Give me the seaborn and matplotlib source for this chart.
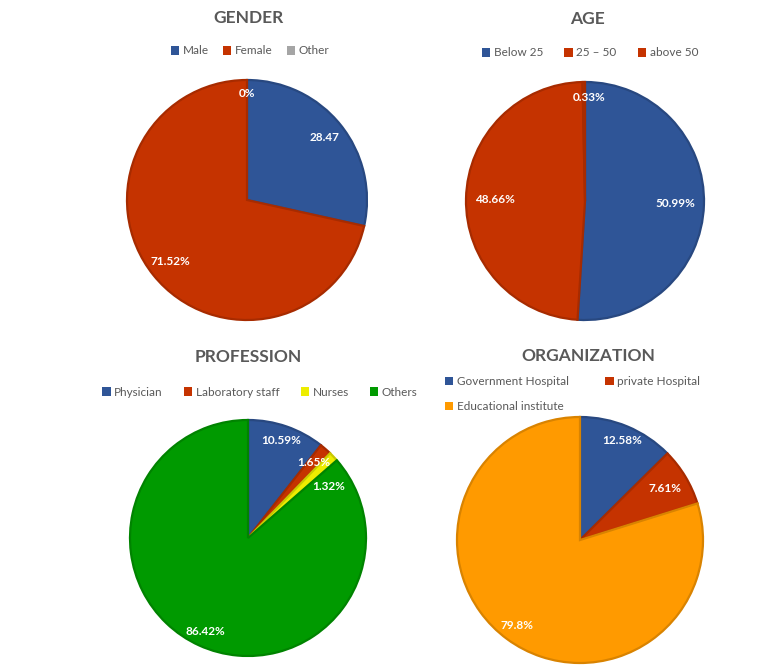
import numpy as np
import matplotlib
matplotlib.use("Agg")
import matplotlib.pyplot as plt
import matplotlib.colors as mcolors
from matplotlib.patches import Patch
import seaborn as sns

# Data
gender_cats = ["Male", "Female", "Other"]
gender_vals = [28.47, 71.52, 0.0]
gender_labels = ["28.47", "71.52%", "0%"]

age_cats = ["Below 25", "25 \u2013 50", "above 50"]
age_vals = [50.99, 48.66, 0.33]
age_labels = ["50.99%", "48.66%", "0.33%"]

prof_cats = ["Physician", "Laboratory staff", "Nurses", "Others"]
prof_vals = [10.59, 1.65, 1.32, 86.42]
prof_labels = ["10.59%", "1.65%", "1.32%", "86.42%"]

org_cats = ["Government Hospital", "private Hospital", "Educational institute"]
org_vals = [12.58, 7.61, 79.8]
org_labels = ["12.58%", "7.61%", "79.8%"]

# colours
BLUE = "#2F5597"
RED = "#C53300"
GRAY = "#A5A5A5"
YELLOW = "#EDED00"
GREEN = "#009A00"
ORANGE = "#FF9A00"
TXT = "#595959"

sns.set_theme(style="white")
plt.rcParams["font.family"] = ["Lato", "DejaVu Sans"]

W, H = 773, 672
fig = plt.figure(figsize=(W / 100, H / 100), dpi=100)
fig.patch.set_facecolor("white")


def pie_axes(cx, cy, r):
    # axes square in pixels so that the pie radius (1.0) maps to r px
    w = 2.5 * r
    return fig.add_axes([(cx - w / 2) / W, (H - cy - w / 2) / H, w / W, w / H])


def darker(c, f=0.85):
    rgb = np.array(mcolors.to_rgb(c)) * f
    return tuple(rgb)


def draw_pie(ax, vals, colors, labels, dists, offsets=None):
    wedges, _ = ax.pie(vals, colors=colors, startangle=90, counterclock=False,
                       wedgeprops=dict(linewidth=1.6))
    for w, c, v in zip(wedges, colors, vals):
        w.set_edgecolor(darker(c))
        if v == 0:
            w.set_linewidth(0)
    if offsets is None:
        offsets = [0] * len(vals)
    for w, lab, d, off in zip(wedges, labels, dists, offsets):
        mid = np.deg2rad((w.theta1 + w.theta2) / 2 + off)
        ax.text(d * np.cos(mid), d * np.sin(mid), lab, ha="center", va="center",
                color="white", fontsize=8.5, fontweight="bold")
    ax.set_xlim(-1.25, 1.25)
    ax.set_ylim(-1.25, 1.25)
    ax.set_aspect("equal")
    ax.axis("off")


def legend(cats, colors, x, y, ncol, **kw):
    handles = [Patch(facecolor=c, edgecolor="none") for c in colors]
    fig.legend(handles, cats, loc=kw.pop("loc", "center"), bbox_to_anchor=(x / W, 1 - y / H),
               ncol=ncol, frameon=False, fontsize=8.5, labelcolor=TXT,
               handlelength=0.7, handleheight=0.7, handletextpad=0.3,
               columnspacing=kw.pop("colsp", 1.2), borderaxespad=0, borderpad=0, **kw)


def title(s, x, y):
    fig.text(x / W, 1 - y / H, s, ha="center", va="center", fontsize=12.5,
             fontweight="bold", color=TXT)


# GENDER
ax1 = pie_axes(247, 200, 120)
draw_pie(ax1, gender_vals, [BLUE, RED, GRAY], gender_labels, [0.83, 0.82, 0.89])
title("GENDER", 248, 18)
legend(gender_cats, [BLUE, RED, GRAY], 250, 51, 3)

# AGE
ax2 = pie_axes(585, 201, 119)
draw_pie(ax2, age_vals, [BLUE, RED, RED], age_labels, [0.76, 0.76, 0.87], [0, 0, -3])
title("AGE", 587, 19)
legend(age_cats, [BLUE, RED, RED], 590, 53, 3, colsp=1.8)

# PROFESSION
ax3 = pie_axes(248, 538, 118)
draw_pie(ax3, prof_vals, [BLUE, RED, YELLOW, GREEN], prof_labels,
         [0.87, 0.85, 0.81, 0.87], [0, 0, -11, 0])
title("PROFESSION", 248, 357)
legend(prof_cats, [BLUE, RED, YELLOW, GREEN], 260, 392, 4, colsp=1.8)

# ORGANIZATION
org_colors = [BLUE, RED, ORANGE]
ax4 = pie_axes(580, 540, 123)
draw_pie(ax4, org_vals, org_colors, org_labels, [0.88, 0.81, 0.86])
title("ORGANIZATION", 588, 356)
# legend fills column-wise: reorder so rows read Gov / private, then Educational
order = [0, 2, 1]
legend([org_cats[i] for i in order], [org_colors[i] for i in order], 445, 376, 2,
       loc="upper left", colsp=3.1, labelspacing=1.2)

fig.savefig("out.png", dpi=100, facecolor="white")
